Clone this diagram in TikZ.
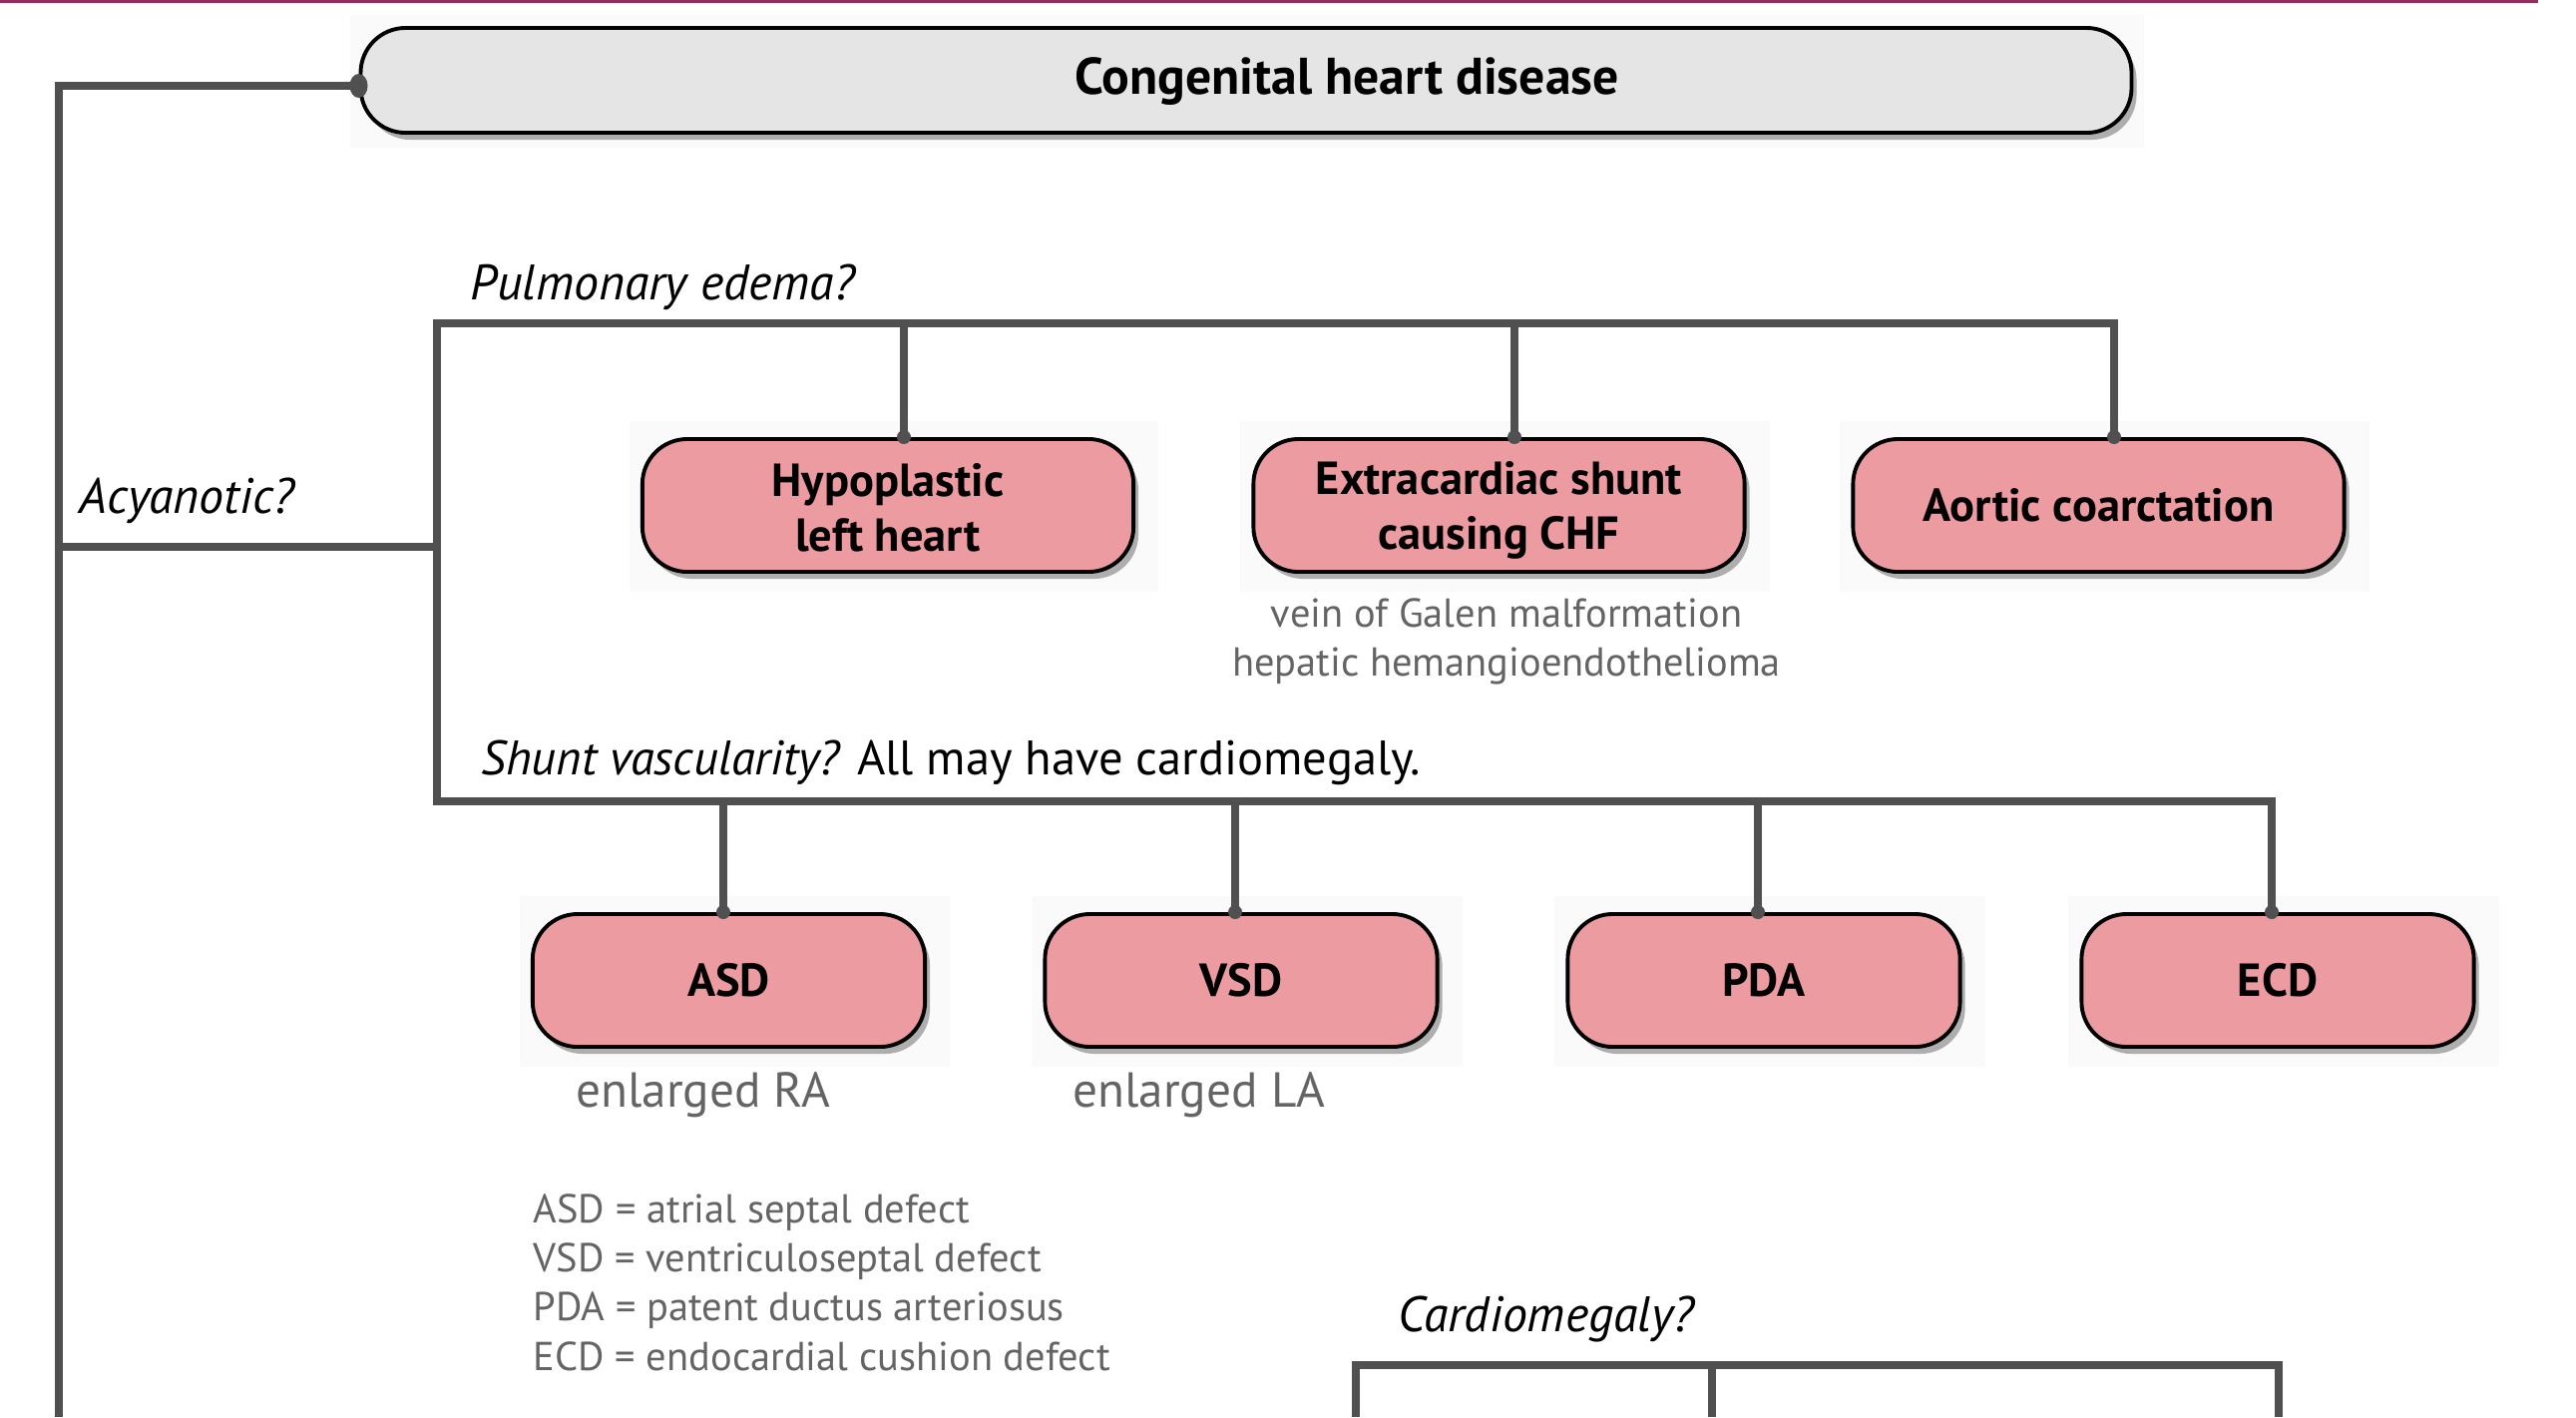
\documentclass[tikz,border=0pt]{standalone}
\usepackage{fontspec}
\setmainfont{PT Sans}
\usetikzlibrary{shadows}
\definecolor{pinkf}{RGB}{236,155,161}
\definecolor{titlef}{RGB}{229,229,229}
\definecolor{linec}{RGB}{80,80,80}
\definecolor{graytxt}{RGB}{100,100,100}
\definecolor{topline}{RGB}{150,45,90}
\definecolor{bgf}{RGB}{250,250,250}
\newcommand{\topstrut}{\rule{0pt}{12.3pt}}
\newcommand{\smallstrut}{\rule{0pt}{10.6pt}}
\tikzset{
  conn/.style={draw=linec, line width=2.3pt},
  softshadow/.style={drop shadow={shadow xshift=0.05cm, shadow yshift=-0.07cm, opacity=0.3, fill=black}},
  pbox/.style={draw=black, line width=1.1pt, fill=pinkf, rounded corners=0.45cm,
    minimum height=1.33cm, inner sep=0pt, align=center,
    font=\fontsize{13.2}{15.5}\selectfont\bfseries, softshadow},
  wbox/.style={pbox, minimum width=4.92cm},
  nbox/.style={pbox, minimum width=3.93cm},
  qlabel/.style={inner sep=0pt, anchor=west, font=\fontsize{14.2}{16}\selectfont\itshape},
  graynote/.style={inner sep=0pt, text=graytxt, font=\fontsize{11.5}{15}\selectfont},
  legend/.style={graynote, anchor=west, text height=0.75em, text depth=0.22em},
  enl/.style={inner sep=0pt, text=graytxt, font=\fontsize{14}{16}\selectfont},
  dot/.style={fill=linec},
  bgrect/.style={fill=bgf}
}
\begin{document}
\begin{tikzpicture}[x=0.01cm, y=-0.01cm]
\useasboundingbox (0,0) rectangle (2582,1420);
% thin line at the top edge
\draw[topline, line width=0.9pt] (0,1.5) -- (2544,1.5);
% faint backgrounds behind boxes
\fill[bgrect] (351,15) rectangle (2149,148);
\fill[bgrect] (631,422) rectangle (1161,593);
\fill[bgrect] (1243,422) rectangle (1774,593);
\fill[bgrect] (1844,422) rectangle (2375,593);
\fill[bgrect] (521,898) rectangle (952,1069);
\fill[bgrect] (1034,898) rectangle (1466,1069);
\fill[bgrect] (1558,898) rectangle (1990,1069);
\fill[bgrect] (2073,898) rectangle (2505,1069);
% title
\node[draw=black, line width=1.1pt, fill=titlef, rounded corners=0.45cm,
  minimum width=17.74cm, minimum height=1.05cm, softshadow] (title) at (1249,80.5) {};
\node[inner sep=0pt, font=\fontsize{14.7}{16}\selectfont\bfseries] (titletext) at (1350,82) {Congenital heart disease};
% boxes row 1
\node[wbox] (hyp) at (890,506.5) {\smallstrut Hypoplastic\\left heart};
\node[wbox] (extra) at (1502.5,506.5) {\topstrut Extracardiac shunt\\causing CHF};
\node[wbox] (aort) at (2103.5,506.5) {Aortic coarctation};
% boxes row 2
\node[nbox] (asd) at (730.5,982.5) {ASD};
\node[nbox] (vsd) at (1244,982.5) {VSD};
\node[nbox] (pda) at (1768,982.5) {PDA};
\node[nbox] (ecd) at (2283,982.5) {ECD};
% labels
\node[qlabel] (acy) at (79,502) {Acyanotic?};
\node[qlabel] (pulm) at (471,288) {Pulmonary edema?};
\node[qlabel, font=\fontsize{13.8}{16}\selectfont\itshape] (shunt) at (482,764) {Shunt vascularity?\upshape{} All may have cardiomegaly.};
\node[qlabel] (cardio) at (1401,1322) {Cardiomegaly?};
% notes
\node[graynote] (galen) at (1510,614) {vein of Galen malformation};
\node[graynote] (hepatic) at (1510,667) {hepatic hemangioendothelioma};
\node[enl] (enlra) at (705,1097) {enlarged RA};
\node[enl] (enlla) at (1202,1097) {enlarged LA};
\node[legend] (leg1) at (534,1216) {ASD = atrial septal defect};
\node[legend] (leg2) at (534,1265) {VSD = ventriculoseptal defect};
\node[legend] (leg3) at (534,1314) {PDA = patent ductus arteriosus};
\node[legend] (leg4) at (534,1364) {ECD = endocardial cushion defect};
% junction coordinates
\coordinate (tl) at (59,86);
\coordinate (bl) at (59,1420);
\coordinate (ja) at (438,548);
\coordinate (t1) at (438,324);
\coordinate (t2) at (438,803);
\coordinate (d1) at (906,324);
\coordinate (d2) at (1518,324);
\coordinate (d3) at (2119,324);
\coordinate (e1) at (725,803);
\coordinate (e2) at (1238,803);
\coordinate (e3) at (1762,803);
\coordinate (e4) at (2277,803);
\coordinate (f1) at (1359,1368);
\coordinate (f2) at (1716,1368);
\coordinate (f3) at (2284,1368);
% connectors
\draw[conn] (title.west |- tl) -- (tl) -- (bl);
\draw[conn] (tl |- ja) -- (ja);
\draw[conn] (d3 |- aort.north) -- (d3) -- (t1) -- (t2) -- (e4) -- (e4 |- ecd.north);
\draw[conn] (d1) -- (d1 |- hyp.north);
\draw[conn] (d2) -- (d2 |- extra.north);
\draw[conn] (e1) -- (e1 |- asd.north);
\draw[conn] (e2) -- (e2 |- vsd.north);
\draw[conn] (e3) -- (e3 |- pda.north);
\draw[conn] (f1 |- bl) -- (f1) -- (f3) -- (f3 |- bl);
\draw[conn] (f2) -- (f2 |- bl);
% dots where connectors meet boxes
\fill[dot] (title.west |- tl) ellipse (9 and 12);
\fill[dot] (d1 |- hyp.north) circle (7);
\fill[dot] (d2 |- extra.north) circle (7);
\fill[dot] (d3 |- aort.north) circle (7);
\fill[dot] (e1 |- asd.north) circle (7);
\fill[dot] (e2 |- vsd.north) circle (7);
\fill[dot] (e3 |- pda.north) circle (7);
\fill[dot] (e4 |- ecd.north) circle (7);
\end{tikzpicture}
\end{document}
